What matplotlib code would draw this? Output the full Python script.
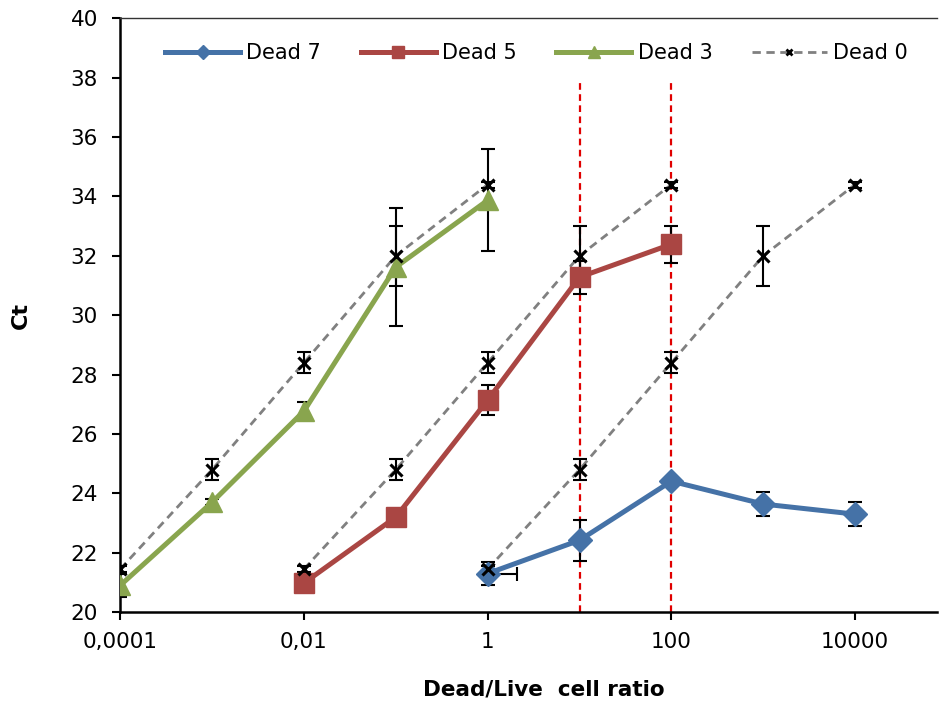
import numpy as np
import matplotlib.pyplot as plt
from matplotlib.lines import Line2D

# Dead/Live ratio positions
x_d7 = [1, 10, 100, 1000, 10000]
ct_d7 = [21.3, 22.42, 24.41, 23.64, 23.3]
err_d7 = [0.4, 0.69, 0.1, 0.4, 0.4]

x_d5 = [0.01, 0.1, 1, 10, 100]
ct_d5 = [20.98, 23.2, 27.14, 31.28, 32.39]
err_d5 = [0.1, 0.1, 0.5, 0.55, 0.62]

x_d3 = [0.0001, 0.001, 0.01, 0.1, 1]
ct_d3 = [20.9, 23.7, 26.77, 31.62, 33.87]
err_d3 = [0.4, 0.1, 0.3, 2.0, 1.72]

# Dead 0 reference curve, repeated at three shifts
ct_d0 = [21.45, 24.8, 28.4, 32.0, 34.4]
err_d0 = [0.1, 0.35, 0.35, 1.0, 0.1]
x_d0_groups = [
    [0.0001, 0.001, 0.01, 0.1, 1],
    [0.01, 0.1, 1, 10, 100],
    [1, 10, 100, 1000, 10000],
]

vlines_x = [10, 100]

blue = '#4572A7'
red = '#AA4643'
green = '#89A54E'
dash0 = (0, (3, 2))

fig = plt.figure(figsize=(9.39, 7.02), dpi=100)
ax = fig.add_axes([0.128, 0.128, 0.870, 0.846])

ax.vlines(vlines_x, 20, 37.9, colors='#E00000', linestyles=(0, (3, 2)), lw=1.6, zorder=1)

# Dead 0 dashed curves
for xs in x_d0_groups:
    ax.plot(xs, ct_d0, ls=dash0, color='#808080', lw=2, zorder=2)
    ax.errorbar(xs, ct_d0, yerr=err_d0, fmt='none', ecolor='black',
                elinewidth=1.5, capsize=5, capthick=1.5, zorder=3)

ebar = dict(fmt='none', ecolor='black', elinewidth=1.5, capsize=5, capthick=1.5, zorder=3)
ax.errorbar(x_d3, ct_d3, yerr=err_d3, **ebar)
ax.errorbar(x_d5, ct_d5, yerr=err_d5, **ebar)
ax.errorbar(x_d7, ct_d7, yerr=err_d7, **ebar)
# odd horizontal bar at ratio 1 on Dead 7
ax.errorbar([1], [21.3], xerr=[[0], [1.1]], **ebar)

l7, = ax.plot(x_d7, ct_d7, '-D', color=blue, lw=3.6, ms=12, zorder=4)
l5, = ax.plot(x_d5, ct_d5, '-s', color=red, lw=3.6, ms=15, zorder=4)
l3, = ax.plot(x_d3, ct_d3, '-^', color=green, lw=3.6, ms=15, zorder=4)

for xs in x_d0_groups:
    ax.plot(xs, ct_d0, 'x', color='black', ms=8, mew=2.2, zorder=5)

ax.set_xscale('log')
ax.set_xlim(1e-4, 10 ** 4.893)
ax.set_ylim(20, 40)
ax.set_yticks(np.arange(20, 41, 2))
ax.set_xticks([1e-4, 1e-2, 1, 100, 10000])
ax.set_xticklabels(['0,0001', '0,01', '1', '100', '10000'])
ax.xaxis.set_minor_locator(plt.NullLocator())
ax.tick_params(axis='both', labelsize=15.5, length=6, width=1.5, direction='out')
ax.tick_params(axis='x', pad=8)
ax.tick_params(axis='y', pad=10)

for side in ['left', 'bottom']:
    ax.spines[side].set_linewidth(1.8)
ax.spines['right'].set_visible(False)
ax.spines['top'].set_linewidth(1.0)
ax.spines['top'].set_color('#333333')

ax.set_ylabel('Ct', fontsize=16, fontweight='bold', va='center')
ax.yaxis.set_label_coords(-0.122, 0.5)
ax.set_xlabel('Dead/Live  cell ratio', fontsize=15.5, fontweight='bold', va='center')
ax.xaxis.set_label_coords(0.518, -0.131)

d0_handle = Line2D([], [], ls=dash0, color='#808080', lw=2,
                   marker='x', mec='black', mew=2, ms=8)
ax.legend([l7, l5, l3, d0_handle], ['Dead 7', 'Dead 5', 'Dead 3', 'Dead 0'],
          ncol=4, frameon=False, loc='center left', bbox_to_anchor=(0.055, 0.941),
          borderpad=0, borderaxespad=0, fontsize=15, markerscale=0.6,
          handlelength=3.6, columnspacing=1.9, handletextpad=0.3)

fig.savefig('out.png', dpi=100)
